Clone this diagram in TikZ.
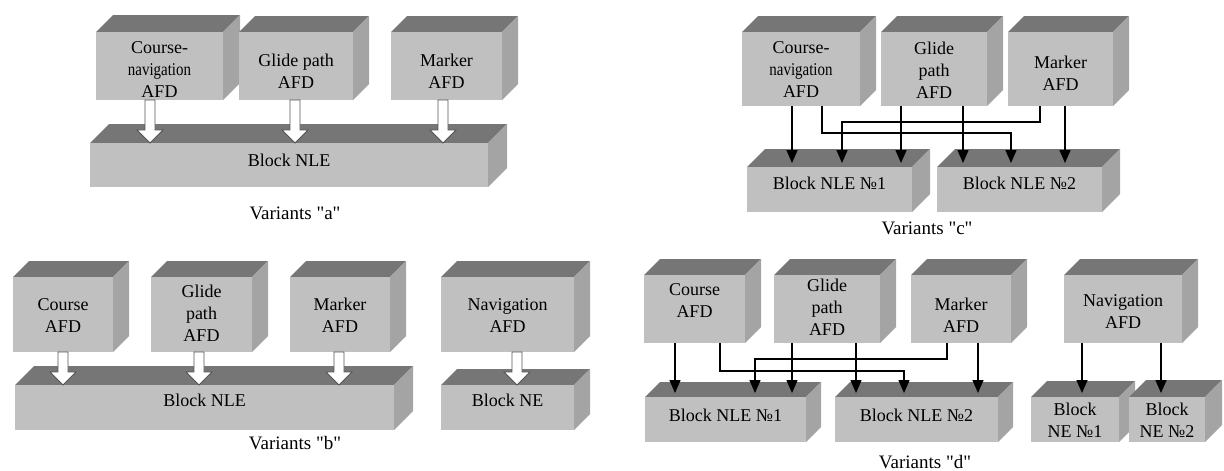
\documentclass[tikz,border=0pt]{standalone}
\usepackage{fontspec}
\setmainfont{Liberation Serif}[Ligatures=TeXOff]
\usepackage{graphicx}
\usetikzlibrary{arrows.meta,calc}
\definecolor{frontc}{HTML}{C0C0C0}
\definecolor{sidec}{HTML}{A4A4A4}
\definecolor{topc}{HTML}{767676}
\definecolor{hollowc}{HTML}{555555}
\tikzset{
  front/.style={fill=frontc, inner sep=0pt, outer sep=0pt},
  lbl/.style={font=\rmfamily\fontsize{18}{22}\selectfont, align=center, inner sep=0pt, text=black},
  captext/.style={font=\rmfamily\fontsize{19}{22}\selectfont, inner sep=0pt},
  conn/.style={line width=1.5pt, -{Triangle[length=13pt,width=11pt]}, shorten >=4pt},
  hollow/.style={fill=white, draw=hollowc, line width=0.8pt, line join=miter}
}
% name, x1, y1, x2, y2, depth, text, text dy
\newcommand\cubebox[8]{%
  \fill[topc] (#2,#3) -- (#2+#6,#3-#6) -- (#4+#6,#3-#6) -- (#4,#3) -- cycle;
  \fill[sidec] (#4,#3) -- (#4+#6,#3-#6) -- (#4+#6,#5-#6) -- (#4,#5) -- cycle;
  \node[front, minimum width=#4-#2, minimum height=#5-#3] (#1) at ({(#2+#4)/2},{(#3+#5)/2}) {};
  \node[lbl] (#1-t) at ($(#1.center)+(0,#8)$) {#7};
}
% from, to, x
\newcommand\hollowarrow[3]{%
  \path (#3,0) coordinate (hx);
  \coordinate (hs) at (hx |- #1.south);
  \coordinate (ht) at (hx |- #2.north);
  \filldraw[hollow] ($(hs)+(-5,0)$) -- ($(ht)+(-5,-13)$) -- ($(ht)+(-13,-13)$) -- (ht)
     -- ($(ht)+(13,-13)$) -- ($(ht)+(5,-13)$) -- ($(hs)+(5,0)$) -- cycle;
}
% x, from, to
\newcommand\vconn[3]{%
  \path (#1,0) coordinate (vx);
  \draw[conn] (vx |- #2.south) -- (vx |- #3.north);
}
% x1, ybend, x2, from, to
\newcommand\econn[5]{%
  \path (#1,#2) coordinate (ea) (#3,#2) coordinate (eb);
  \draw[conn, line join=miter] (ea |- #4.south) -- (ea) -- (eb) -- (eb |- #5.north);
}
\begin{document}
\begin{tikzpicture}[x=1pt,y=-1pt]
\useasboundingbox (0,0) rectangle (1224,471);
% ---------------- Variant a
\cubebox{A1}{96}{32}{223}{100}{17}{Course-\\\scalebox{0.83}[1]{navigation}\\AFD}{4}
\cubebox{A2}{239}{32}{353}{100}{16}{Glide path\\AFD}{5}
\cubebox{A3}{391}{32}{502}{100}{16}{Marker\\AFD}{5}
\cubebox{NLEa}{90}{143}{488}{187}{19}{Block NLE}{-5}
\hollowarrow{A1}{NLEa}{150}
\hollowarrow{A2}{NLEa}{295}
\hollowarrow{A3}{NLEa}{443}
\node[captext] (capa) at (295,213) {Variants "a"};
% ---------------- Variant c
\cubebox{C1}{742}{32}{860}{106}{16}{Course-\\\scalebox{0.83}[1]{navigation}\\AFD}{1}
\cubebox{C2}{881}{32}{987}{106}{16}{Glide\\path\\AFD}{1}
\cubebox{C3}{1008}{32}{1113}{106}{16}{Marker\\AFD}{4}
\cubebox{NLEc1}{747}{167}{912}{212}{18}{Block NLE №1}{-6}
\cubebox{NLEc2}{937}{167}{1102}{212}{18}{Block NLE №2}{-6}
\vconn{792}{C1}{NLEc1}
\econn{822}{133}{1011}{C1}{NLEc2}
\econn{1040}{122}{842}{C3}{NLEc1}
\vconn{901}{C2}{NLEc1}
\vconn{963}{C2}{NLEc2}
\vconn{1065}{C3}{NLEc2}
\node[captext] (capc) at (927,228) {Variants "c"};
% ---------------- Variant b
\cubebox{B1}{13}{277}{113}{352}{16}{Course\\AFD}{1}
\cubebox{B2}{151}{277}{252}{352}{16}{Glide\\path\\AFD}{-1}
\cubebox{B3}{290}{277}{390}{352}{16}{Marker\\AFD}{1}
\cubebox{B4}{441}{277}{574}{352}{16}{Navigation\\AFD}{1}
\cubebox{NLEb}{15}{385}{394}{430}{19}{Block NLE}{-7}
\cubebox{NEb}{441}{385}{574}{430}{16}{Block NE}{-7}
\hollowarrow{B1}{NLEb}{63}
\hollowarrow{B2}{NLEb}{199}
\hollowarrow{B3}{NLEb}{339}
\hollowarrow{B4}{NEb}{517}
\node[captext] (capb) at (295,443) {Variants "b"};
% ---------------- Variant d
\cubebox{D1}{644}{275}{745}{343}{16}{Course\\AFD}{-8}
\cubebox{D2}{774}{275}{880}{343}{16}{Glide\\path\\AFD}{-2}
\cubebox{D3}{911}{275}{1011}{343}{16}{Marker\\AFD}{6}
\cubebox{D4}{1064}{275}{1182}{343}{16}{Navigation\\AFD}{3}
\cubebox{NLEd1}{645}{397}{806}{442}{15}{Block NLE №1}{-4}
\cubebox{NLEd2}{835}{397}{998}{442}{15}{Block NLE №2}{-4}
\cubebox{NEd1}{1031}{397}{1119}{442}{16}{Block\\NE №1}{1}
\cubebox{NEd2}{1129}{397}{1205}{442}{17}{Block\\NE №2}{1}
\vconn{675}{D1}{NLEd1}
\econn{720}{371}{904}{D1}{NLEd2}
\econn{947}{359}{755}{D3}{NLEd1}
\vconn{792}{D2}{NLEd1}
\vconn{856}{D2}{NLEd2}
\vconn{978}{D3}{NLEd2}
\vconn{1082}{D4}{NEd1}
\vconn{1161}{D4}{NEd2}
\node[captext] (capd) at (925,462) {Variants "d"};
\end{tikzpicture}
\end{document}
